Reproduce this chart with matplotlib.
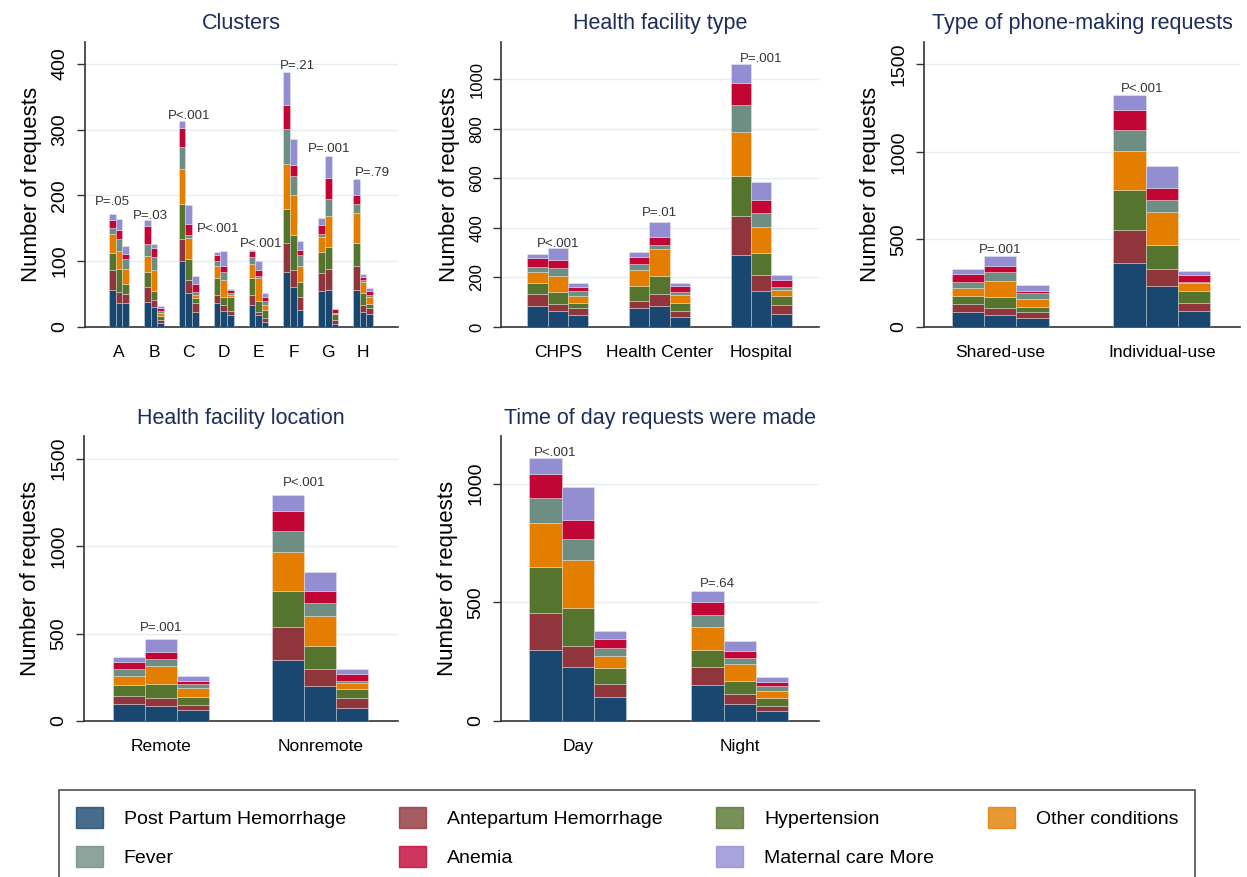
import numpy as np
import matplotlib
matplotlib.use('Agg')
import matplotlib.pyplot as plt
from matplotlib.patches import Patch

plt.rcParams['font.family'] = ['Liberation Sans', 'DejaVu Sans']

# conditions stacked bottom -> top
conditions = ['Post Partum Hemorrhage', 'Antepartum Hemorrhage', 'Hypertension',
              'Other conditions', 'Fever', 'Anemia', 'Maternal care More']
colors = ['#1a476f', '#90353b', '#55752f', '#e37e00', '#6e8e84', '#c10534', '#938dd2']

# each group has three bars, each bar = 7 condition counts
cluster_groups = ['A', 'B', 'C', 'D', 'E', 'F', 'G', 'H']
cluster_vals = [
    [[56, 31, 25, 29, 10, 12, 8], [36, 17, 35, 27, 18, 15, 16], [37, 13, 16, 22, 15, 8, 12]],
    [[38, 23, 22, 25, 18, 28, 9], [30, 11, 13, 33, 19, 14, 6], [6, 5, 5, 6, 3, 4, 3]],
    [[100, 33, 54, 53, 33, 30, 10], [51, 20, 32, 32, 5, 16, 30], [23, 13, 8, 5, 4, 13, 12]],
    [[36, 13, 25, 18, 8, 9, 5], [25, 8, 12, 27, 12, 8, 24], [18, 6, 21, 3, 4, 4, 2]],
    [[33, 15, 27, 20, 12, 8, 2], [18, 5, 17, 34, 3, 9, 15], [8, 6, 12, 8, 5, 7, 5]],
    [[84, 44, 52, 68, 53, 37, 49], [61, 26, 53, 61, 28, 17, 40], [26, 19, 23, 25, 16, 8, 13]],
    [[54, 28, 32, 22, 6, 13, 10], [56, 32, 34, 46, 26, 32, 34], [5, 6, 9, 1, 1, 5, 0]],
    [[56, 36, 35, 46, 14, 13, 25], [23, 10, 19, 16, 3, 5, 5], [20, 9, 6, 10, 4, 5, 6]],
]
cluster_p = ['P=.05', 'P=.03', 'P<.001', 'P<.001', 'P<.001', 'P=.21', 'P=.001', 'P=.79']
cluster_p_y = [190, 168, 320, 149, 126, 396, 270, 234]

ftype_groups = ['CHPS', 'Health Center', 'Hospital']
ftype_vals = [
    [[85, 48, 46, 41, 23, 34, 16], [65, 28, 49, 65, 32, 31, 47], [48, 27, 23, 27, 21, 14, 16]],
    [[78, 27, 60, 65, 24, 27, 20], [86, 47, 73, 107, 18, 31, 60], [39, 27, 30, 34, 13, 21, 12]],
    [[290, 159, 161, 178, 107, 90, 75], [146, 64, 87, 108, 56, 51, 74], [52, 37, 36, 24, 14, 27, 20]],
]
ftype_p = ['P<.001', 'P=.01', 'P=.001']
ftype_p_y = [335, 460, 1083]

phone_groups = ['Shared-use', 'Individual-use']
phone_vals = [
    [[87, 44, 46, 43, 38, 44, 27], [68, 38, 67, 89, 50, 38, 55], [53, 34, 29, 42, 34, 15, 33]],
    [[367, 186, 228, 225, 121, 111, 85], [234, 95, 139, 186, 70, 67, 129], [93, 42, 70, 44, 9, 39, 24]],
]
phone_p = ['P=.001', 'P<.001']
phone_p_y = [439, 1356]

location_groups = ['Remote', 'Nonremote']
location_vals = [
    [[97, 46, 63, 53, 36, 44, 25], [86, 44, 81, 105, 36, 40, 74], [63, 28, 44, 52, 24, 19, 29]],
    [[348, 191, 205, 223, 118, 116, 93], [202, 93, 133, 174, 74, 68, 109], [72, 58, 53, 32, 15, 38, 29]],
]
location_p = ['P=.001', 'P<.001']
location_p_y = [529, 1361]

time_groups = ['Day', 'Night']
time_vals = [
    [[301, 155, 193, 183, 109, 101, 66], [226, 90, 161, 203, 88, 80, 138], [102, 52, 68, 53, 31, 38, 35]],
    [[151, 78, 70, 98, 49, 53, 48], [72, 42, 54, 72, 26, 30, 41], [42, 21, 32, 31, 21, 16, 21]],
]
time_p = ['P<.001', 'P=.64']
time_p_y = [1130, 575]

TITLE_COLOR = '#1c2d5a'
W, H = 1247, 877


def px_axes(fig, left, top, right, bottom):
    # pixel box -> figure fraction
    return fig.add_axes([left / W, 1 - bottom / H, (right - left) / W, (bottom - top) / H])


def draw_panel(ax, groups, vals, p_text, p_y, p_dx, title, yticks, ylim, xlim,
               bar_w=0.2, tick_fs=14):
    v = np.array(vals, dtype=float)          # groups x 3 x 7
    ng = v.shape[0]
    centers = np.arange(1, ng + 1)
    xs = (centers[:, None] + (np.arange(3) - 1) * bar_w).ravel()
    flat = v.reshape(-1, 7)
    bottom = np.zeros(len(xs))
    for c in range(7):
        ax.bar(xs, flat[:, c], width=bar_w, bottom=bottom, color=colors[c],
               edgecolor=(1, 1, 1, 0.35), linewidth=0.6, zorder=3)
        bottom += flat[:, c]

    for i, (t, y) in enumerate(zip(p_text, p_y)):
        ax.text(centers[i] + p_dx[i], y, t, ha='center', va='center',
                fontsize=9.5, color='#333333', zorder=4)

    ax.set_xlim(*xlim)
    ax.set_ylim(*ylim)
    ax.set_xticks(centers)
    ax.set_xticklabels(groups, fontsize=12.5)
    ax.tick_params(axis='x', length=0, pad=13)
    ax.set_yticks(yticks)
    ax.set_yticklabels([str(t) for t in yticks], rotation=90, va='center',
                       fontsize=tick_fs)
    ax.tick_params(axis='y', length=6, width=1, color='#333333', pad=6)
    for t in yticks[1:]:
        ax.axhline(t, color='#e4eef0', linewidth=1, zorder=1)
    for s in ['top', 'right']:
        ax.spines[s].set_visible(False)
    for s in ['left', 'bottom']:
        ax.spines[s].set_color('#333333')
        ax.spines[s].set_linewidth(1.2)
    ax.set_ylabel('Number of requests', fontsize=16, labelpad=7)
    ax.set_title(title, fontsize=15.5, color=TITLE_COLOR, pad=9)


fig = plt.figure(figsize=(W / 100, H / 100), dpi=100)
fig.patch.set_facecolor('white')

ax1 = px_axes(fig, 85, 42, 398, 327)
draw_panel(ax1, cluster_groups, cluster_vals, cluster_p, cluster_p_y,
           [-0.2, -0.1, 0, -0.16, 0.07, 0.13, 0.02, 0.26],
           'Clusters', [0, 100, 200, 300, 400], (0, 433), (0.025, 9.0),
           bar_w=0.19, tick_fs=14)

ax2 = px_axes(fig, 501, 42, 819, 327)
draw_panel(ax2, ftype_groups, ftype_vals, ftype_p, ftype_p_y, [0, 0, 0],
           'Health facility type', [0, 200, 400, 600, 800, 1000], (0, 1150),
           (0.442, 3.57), tick_fs=12)

ax3 = px_axes(fig, 924, 42, 1240, 327)
draw_panel(ax3, phone_groups, phone_vals, phone_p, phone_p_y, [0, -0.12],
           'Type of phone-making requests', [0, 500, 1000, 1500], (0, 1627),
           (0.527, 2.485), tick_fs=14)

ax4 = px_axes(fig, 84, 436, 398, 721)
draw_panel(ax4, location_groups, location_vals, location_p, location_p_y, [0, -0.1],
           'Health facility location', [0, 500, 1000, 1500], (0, 1629),
           (0.52, 2.486), tick_fs=14)

ax5 = px_axes(fig, 501, 436, 819, 721)
draw_panel(ax5, time_groups, time_vals, time_p, time_p_y, [-0.14, -0.14],
           'Time of day requests were made', [0, 500, 1000], (0, 1200),
           (0.526, 2.489), tick_fs=14)

# legend filled column-wise, so reorder to read row-wise like the original
order = [0, 4, 1, 5, 2, 6, 3]
handles = [Patch(facecolor=colors[i], alpha=0.8, edgecolor=colors[i]) for i in order]
labels = [conditions[i] for i in order]
leg = fig.legend(handles, labels, ncol=4, loc='upper left',
                 bbox_to_anchor=(59 / W, 1 - 790 / H), borderaxespad=0,
                 fontsize=14, frameon=True, fancybox=False, edgecolor='#222222',
                 handlelength=1.39, handleheight=1.34, handletextpad=1.08,
                 columnspacing=2.75, labelspacing=0.9, borderpad=0.85)
leg.get_frame().set_linewidth(1.2)

fig.savefig('out.png', dpi=100, facecolor='white')
